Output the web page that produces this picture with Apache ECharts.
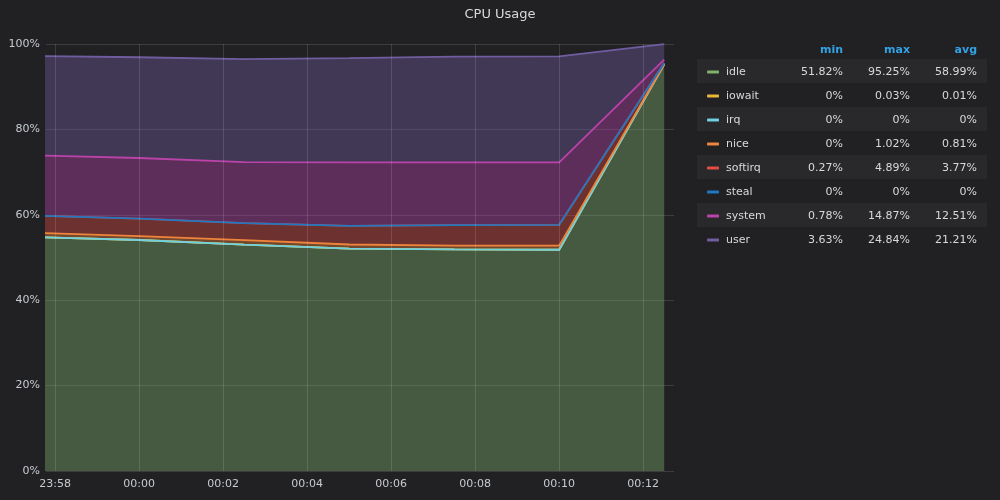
<!DOCTYPE html>
<html><head><meta charset="utf-8">
<script src="https://cdn.jsdelivr.net/npm/echarts@6/dist/echarts.min.js"></script>
<style>html,body{margin:0;padding:0;background:#212123;}#c{width:1000px;height:500px;}</style>
</head><body><div id="c"></div>
<script>
const times = ['23:57:30','00:00:00','00:02:30','00:05:00','00:07:30','00:10:00','00:12:30'];
const seriesNames = ['idle','iowait','irq','nice','softirq','steal','system','user'];
const idle    = [54.8, 54.1, 53.0, 52.1, 51.9, 51.82, 95.25];
const iowait  = [0.01, 0, 0.03, 0, 0.01, 0, 0.02];
const irq     = [0, 0, 0, 0, 0, 0, 0];
const nice    = [1.0, 0.9, 1.02, 0.95, 0.85, 0.95, 0];
const softirq = [4.0, 4.1, 4.0, 4.35, 4.8, 4.89, 0.27];
const steal   = [0, 0, 0, 0, 0, 0, 0];
const system  = [14.1, 14.2, 14.3, 14.87, 14.7, 14.62, 0.78];
const user    = [23.3, 23.6, 24.1, 24.4, 24.8, 24.84, 3.63];
const minVals = ['51.82%','0%','0%','0%','0.27%','0%','0.78%','3.63%'];
const maxVals = ['95.25%','0.03%','0%','1.02%','4.89%','0%','14.87%','24.84%'];
const avgVals = ['58.99%','0.01%','0%','0.81%','3.77%','0%','12.51%','21.21%'];
const headers = ['min','max','avg'];
const xTickLabels = ['23:58','00:00','00:02','00:04','00:06','00:08','00:10','00:12'];
const xRange = ['23:57:47','00:12:44'];
const yTicks = [0,20,40,60,80,100];
const colors = ['#7EB26D','#EAB839','#6ED0E0','#EF843C','#E24D42','#1F78C1','#BA43A9','#705DA0'];
const values = [idle, iowait, irq, nice, softirq, steal, system, user];

const FONT = 'DejaVu Sans';
const GRID = 'rgba(255,255,255,0.13)';
const pad = n => (n < 10 ? '0' : '') + n;
// clock string -> timestamp (times after noon belong to the day before midnight)
const MIDNIGHT = new Date(2024, 0, 2, 0, 0, 0).getTime();
const toMs = s => { const p = s.split(':').map(Number); let v = p[0]*3600 + p[1]*60 + (p[2]||0); if (p[0] >= 12) v -= 86400; return MIDNIGHT + v*1000; };
const fmtMs = v => { const d = new Date(v); return pad(d.getHours()) + ':' + pad(d.getMinutes()); };
const xTicks = xTickLabels.map(toMs);

const chart = echarts.init(document.getElementById('c'), null, {renderer: 'canvas'});

const series = seriesNames.map((name, i) => ({
  name, type: 'line', stack: 'total', symbol: 'none', smooth: false,
  data: times.map((t, j) => [toMs(t), values[i][j]]),
  lineStyle: {color: colors[i], width: 1.8},
  itemStyle: {color: colors[i]},
  areaStyle: {color: colors[i], opacity: 0.4},
  emphasis: {disabled: true},
  clip: true
}));
// vertical grid lines at the labelled times
series[series.length - 1].markLine = {
  silent: true, symbol: 'none', animation: false,
  label: {show: false},
  lineStyle: {color: GRID, width: 1, type: 'solid'},
  emphasis: {disabled: true},
  data: xTicks.map(v => ({xAxis: v}))
};

const stripes = [];
for (let i = 0; i < seriesNames.length; i += 2) {
  stripes.push({type: 'rect', silent: true, z: -1, shape: {x: 697, y: 59 + i * 24, width: 290, height: 24}, style: {fill: '#29292c'}});
}
const headerX = [843, 910, 977];
const headerEls = headers.map((h, i) => ({
  type: 'text', silent: true,
  style: {text: h, x: headerX[i], y: 50, align: 'right', verticalAlign: 'middle', fill: '#33a2e5', font: 'bold 11px ' + FONT}
}));

chart.setOption({
  backgroundColor: '#212123',
  animation: false,
  title: {text: 'CPU Usage', left: 'center', top: 3, textStyle: {color: '#d8d9da', fontSize: 13, fontWeight: 'normal', fontFamily: FONT}},
  grid: {left: 46, right: 326, top: 44, bottom: 29, containLabel: false},
  xAxis: {
    type: 'time',
    min: toMs(xRange[0]), max: toMs(xRange[1]),
    axisLine: {show: false},
    axisTick: {show: false},
    splitLine: {show: false},
    axisLabel: {color: '#c7cbd0', fontSize: 11, fontFamily: FONT, margin: 8,
      formatter: v => (xTicks.indexOf(v) >= 0 ? fmtMs(v) : '')}
  },
  yAxis: {
    type: 'value', min: 0, max: 100, interval: 20,
    axisLine: {show: false}, axisTick: {show: false},
    splitLine: {show: true, lineStyle: {color: GRID, width: 1}},
    axisLabel: {color: '#c7cbd0', fontSize: 11, fontFamily: FONT, margin: 6,
      customValues: yTicks, formatter: v => v + '%'}
  },
  legend: {
    orient: 'vertical', left: 707, top: 60, padding: 0, itemGap: 0,
    itemWidth: 12, itemHeight: 3, icon: 'roundRect', selectedMode: false,
    data: seriesNames.map((n, i) => ({name: n, itemStyle: {color: colors[i]}})),
    formatter: name => {
      const i = seriesNames.indexOf(name);
      return '{n|' + name + '}{a|' + minVals[i] + '}{b|' + maxVals[i] + '}{c|' + avgVals[i] + '}';
    },
    textStyle: {
      color: '#d8d9da', fontSize: 11, fontFamily: FONT, lineHeight: 24,
      rich: {
        n: {width: 52, padding: [0, 0, 0, 2], color: '#d8d9da', fontSize: 11, fontFamily: FONT, lineHeight: 24},
        a: {width: 65, align: 'right', color: '#d8d9da', fontSize: 11, fontFamily: FONT, lineHeight: 24},
        b: {width: 67, align: 'right', color: '#d8d9da', fontSize: 11, fontFamily: FONT, lineHeight: 24},
        c: {width: 67, align: 'right', color: '#d8d9da', fontSize: 11, fontFamily: FONT, lineHeight: 24}
      }
    }
  },
  graphic: stripes.concat(headerEls),
  series
});
</script></body></html>
